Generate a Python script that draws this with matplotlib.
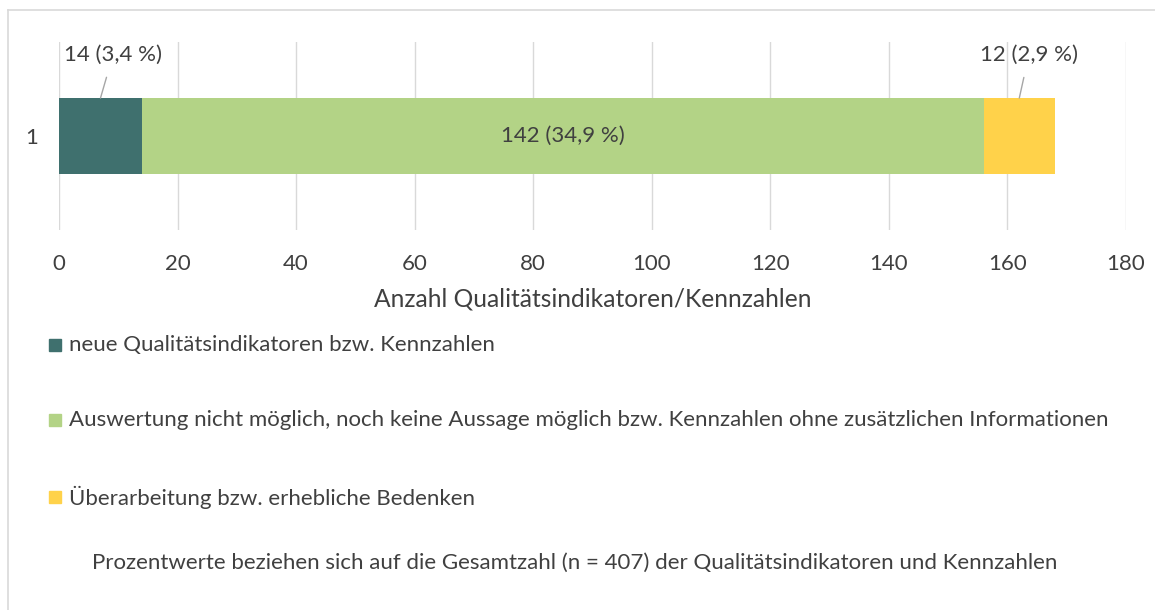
import matplotlib.pyplot as plt
from matplotlib.lines import Line2D
from matplotlib.patches import Rectangle

plt.rcParams['font.family'] = ['Lato', 'DejaVu Sans']

# Daten
kategorien = ['1']
serien = ['neue Qualitätsindikatoren bzw. Kennzahlen',
          'Auswertung nicht möglich, noch keine Aussage möglich bzw. Kennzahlen ohne zusätzlichen Informationen',
          'Überarbeitung bzw. erhebliche Bedenken']
werte = [14, 142, 12]
prozent = ['3,4', '34,9', '2,9']
farben = ['#3F706E', '#B3D386', '#FFD24A']
xticks = [0, 20, 40, 60, 80, 100, 120, 140, 160, 180]
fussnote = 'Prozentwerte beziehen sich auf die Gesamtzahl (n = 407) der Qualitätsindikatoren und Kennzahlen'

W, H = 1155, 610
fig = plt.figure(figsize=(W / 100, H / 100), dpi=100)
ax = fig.add_axes([59 / W, 1 - 230 / H, (1126 - 59) / W, (230 - 42) / H])

textfarbe = '#404040'
fs = 16
links = 0
for i, (w, f) in enumerate(zip(werte, farben)):
    ax.barh(0, w, left=links, height=0.404, color=f, zorder=3)
    links += w

# Beschriftungen
lbl = [f'{w} ({p} %)' for w, p in zip(werte, prozent)]
ax.annotate(lbl[0], xy=(werte[0] / 2, 0.202), xytext=(9.1, 0.43),
            ha='center', va='center', fontsize=fs, color=textfarbe,
            arrowprops=dict(arrowstyle='-', color='#A6A6A6', lw=1, shrinkA=7, shrinkB=0))
ax.text(werte[0] + werte[1] / 2, 0, lbl[1], ha='center', va='center',
        fontsize=fs, color=textfarbe, zorder=4)
ax.annotate(lbl[2], xy=(werte[0] + werte[1] + werte[2] / 2, 0.202), xytext=(163.6, 0.43),
            ha='center', va='center', fontsize=fs, color=textfarbe,
            arrowprops=dict(arrowstyle='-', color='#A6A6A6', lw=1, shrinkA=7, shrinkB=0))

ax.set_xlim(0, 180)
ax.set_ylim(-0.5, 0.5)
ax.set_xticks(xticks)
ax.set_yticks([0])
ax.set_yticklabels(kategorien)
ax.tick_params(length=0, labelsize=fs, labelcolor=textfarbe)
ax.tick_params(axis='x', pad=17)
ax.tick_params(axis='y', pad=15)
ax.grid(axis='x', color='#D9D9D9', lw=1, zorder=0)
for s in ax.spines.values():
    s.set_visible(False)
ax.set_xlabel('Anzahl Qualitätsindikatoren/Kennzahlen', fontsize=17.7, color=textfarbe, labelpad=10)

# Legende
for yp, f, s in zip([345, 420, 497], farben, serien):
    fig.patches.append(Rectangle((49 / W, 1 - (yp + 6) / H), 12 / W, 12 / H,
                                 transform=fig.transFigure, color=f))
    fig.text(69 / W, 1 - yp / H, s, fontsize=fs, color=textfarbe, va='center', ha='left')

fig.text(575 / W, 1 - 563 / H, fussnote, fontsize=fs, color=textfarbe, ha='center', va='center')

# Rahmen
fig.add_artist(Line2D([8 / W, 8 / W], [0, 1 - 10 / H], color='#D9D9D9', lw=1.2))
fig.add_artist(Line2D([8 / W, 1], [1 - 10 / H, 1 - 10 / H], color='#D9D9D9', lw=1.2))

fig.savefig('out.png', dpi=100)
